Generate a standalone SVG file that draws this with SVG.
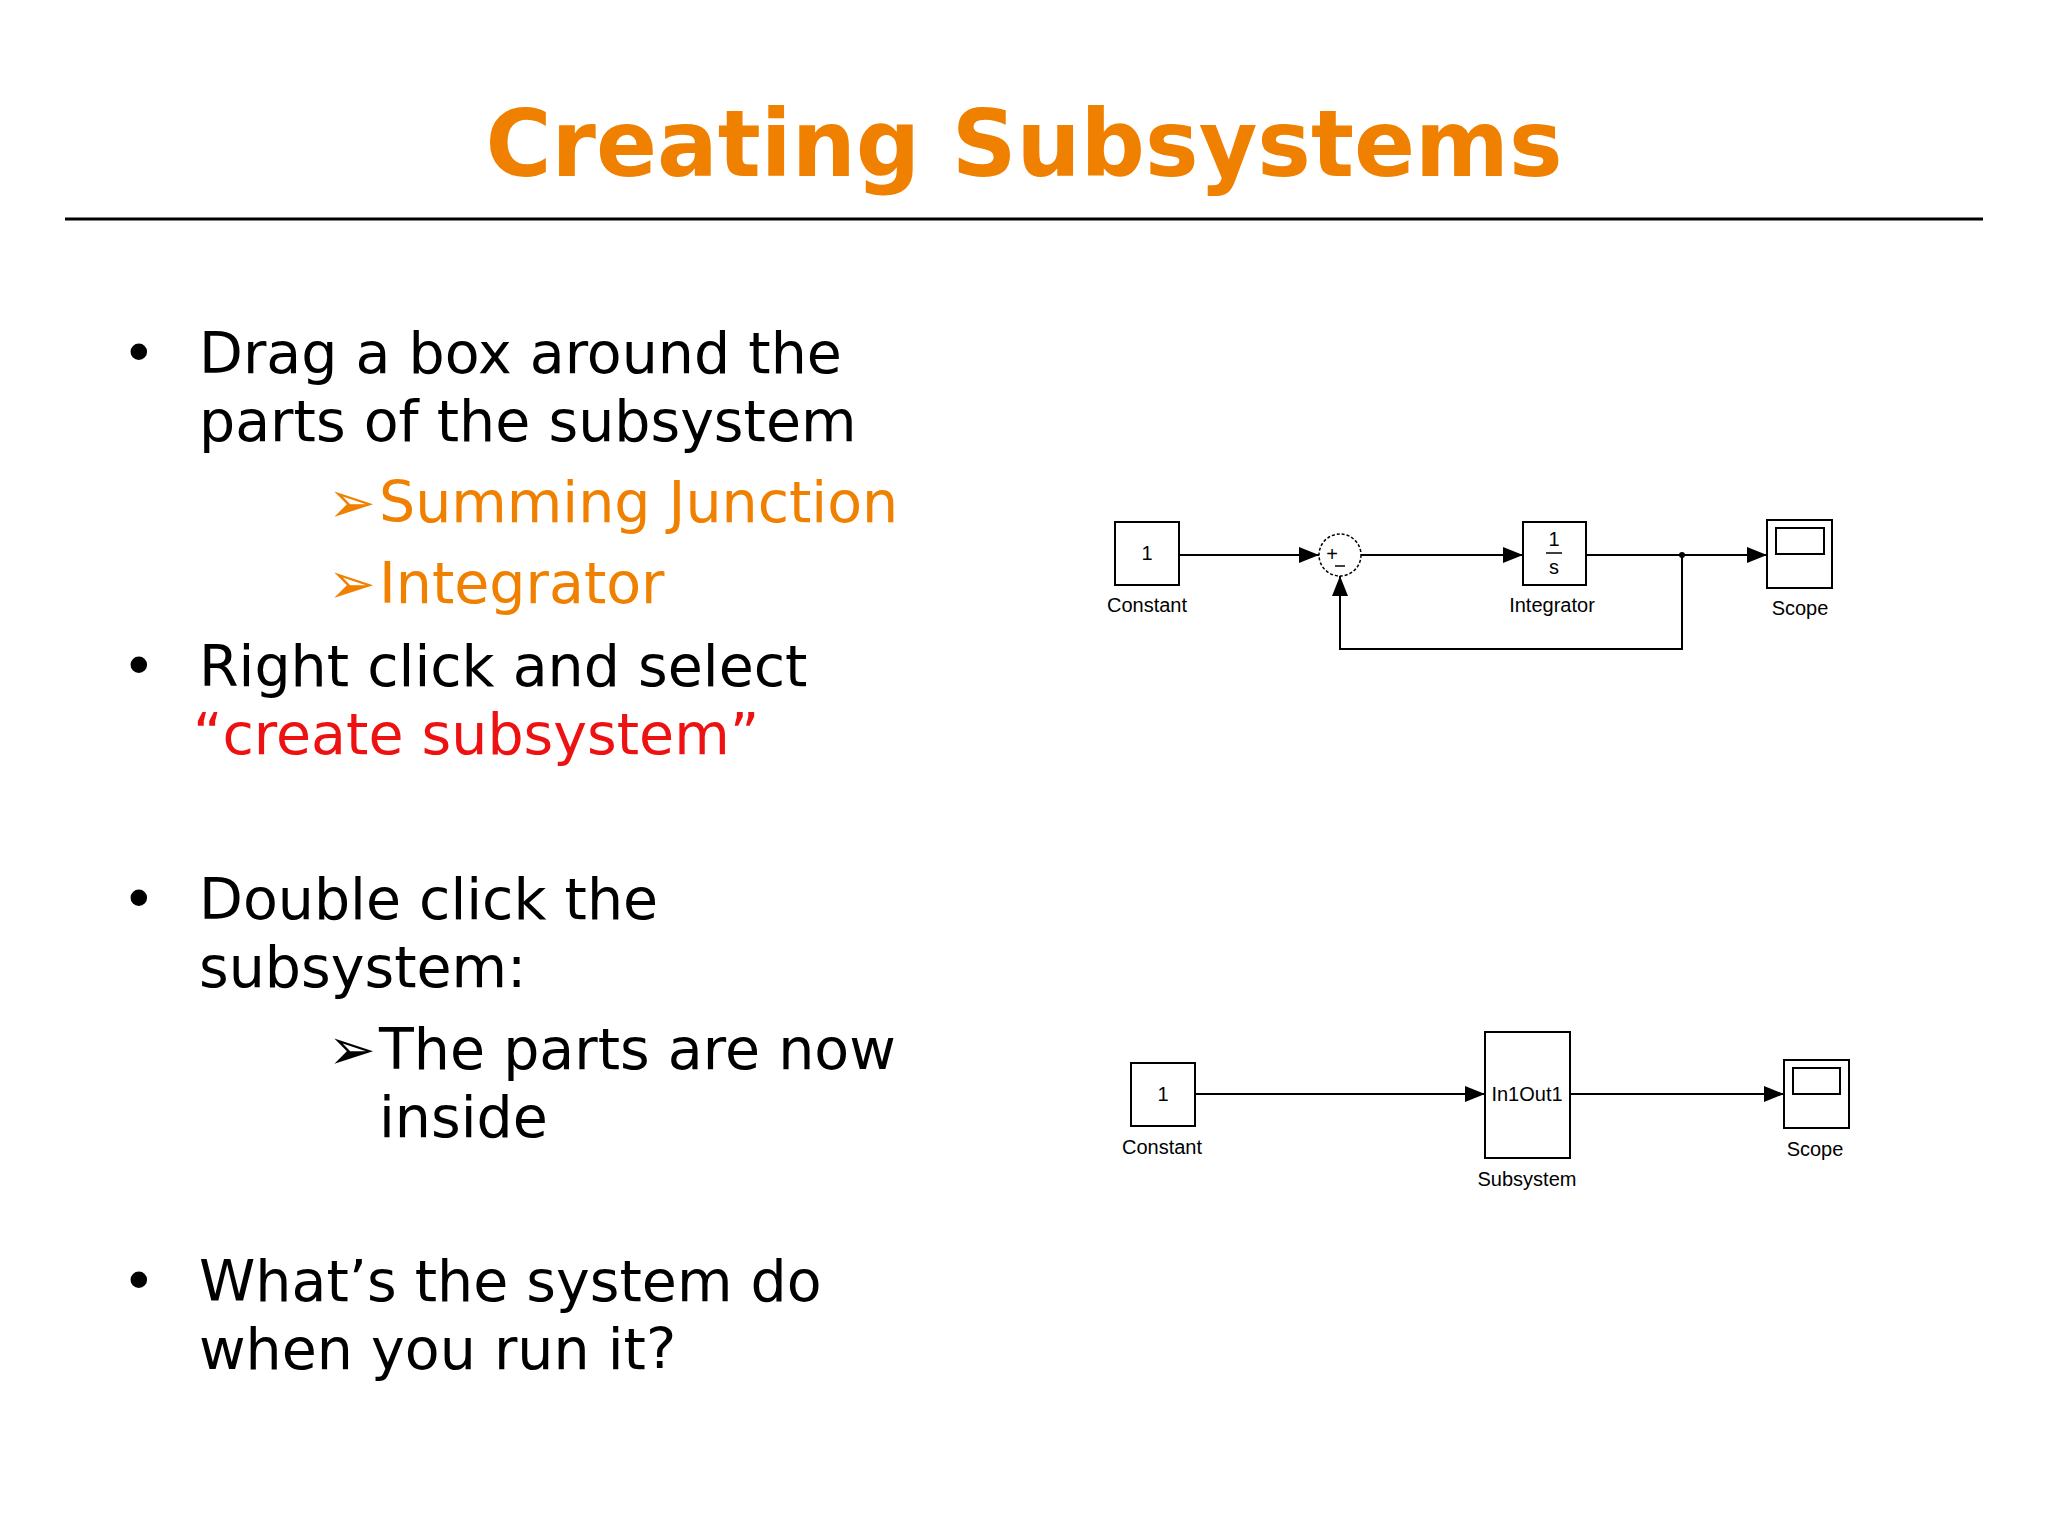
<svg xmlns="http://www.w3.org/2000/svg" width="2048" height="1534" viewBox="0 0 2048 1534">
<style>
.t{font-family:"DejaVu Sans",Verdana,sans-serif;font-size:57px;fill:#000}
.o{fill:#f08000}
.r{fill:#ee1111}
.b{fill:#fff;stroke:#000;stroke-width:2}
.l{font-family:"Liberation Sans",Arial,sans-serif;font-size:20px;fill:#000;text-anchor:middle}
.w{fill:none;stroke:#000;stroke-width:2}
</style>
<defs><marker id="a2" markerWidth="20" markerHeight="16" refX="20" refY="8" orient="auto" markerUnits="userSpaceOnUse"><path d="M0,0L20,8L0,16z" fill="#000"/></marker></defs>
<rect width="2048" height="1534" fill="#fff"/>
<text x="1024" y="176" text-anchor="middle" font-family="DejaVu Sans,Verdana,sans-serif" font-weight="bold" font-size="92" fill="#f08000" textLength="1077" lengthAdjust="spacingAndGlyphs">Creating Subsystems</text>
<line x1="65" y1="219" x2="1983" y2="219" stroke="#000" stroke-width="3"/>
<g id="bullets">
<text class="t" x="122" y="373">•</text><text class="t" x="199" y="373">Drag a box around the</text>
<text class="t" x="199" y="441">parts of the subsystem</text>
<text class="t o" x="328" y="522">➢</text><text class="t o" x="379" y="522">Summing Junction</text>
<text class="t o" x="328" y="603">➢</text><text class="t o" x="379" y="603">Integrator</text>
<text class="t" x="122" y="686">•</text><text class="t" x="199" y="686">Right click and select</text>
<text class="t r" x="193" y="754">“create subsystem”</text>
<text class="t" x="122" y="919">•</text><text class="t" x="199" y="919">Double click the</text>
<text class="t" x="199" y="987">subsystem:</text>
<text class="t" x="328" y="1069">➢</text><text class="t" x="379" y="1069">The parts are now</text>
<text class="t" x="379" y="1137">inside</text>
<text class="t" x="122" y="1301">•</text><text class="t" x="199" y="1301">What’s the system do</text>
<text class="t" x="199" y="1369">when you run it?</text>
</g>
<g id="connectors">
<line class="w" x1="1179" y1="555" x2="1319" y2="555" marker-end="url(#a2)"/>
<line class="w" x1="1361" y1="555" x2="1523" y2="555" marker-end="url(#a2)"/>
<line class="w" x1="1586" y1="555" x2="1767" y2="555" marker-end="url(#a2)"/>
<polyline class="w" points="1682,555 1682,649 1340,649 1340,576" marker-end="url(#a2)"/>
<circle cx="1682" cy="555" r="3"/>
<line class="w" x1="1195" y1="1094" x2="1485" y2="1094" marker-end="url(#a2)"/>
<line class="w" x1="1570" y1="1094" x2="1784" y2="1094" marker-end="url(#a2)"/>
</g>
<g id="constant1"><rect class="b" x="1115" y="522" width="64" height="63"/><text class="l" x="1147" y="560">1</text><text class="l" x="1147" y="612">Constant</text></g>
<g id="sum"><circle cx="1340" cy="555" r="21" fill="#fff" stroke="#000" stroke-width="1.5" stroke-dasharray="3,2"/><text class="l" x="1332" y="561">+</text><line x1="1335" y1="566" x2="1345" y2="566" stroke="#000" stroke-width="1.5"/></g>
<g id="integrator"><rect class="b" x="1523" y="522" width="63" height="63"/><text class="l" x="1554" y="546">1</text><line x1="1546" y1="553" x2="1562" y2="553" stroke="#000" stroke-width="1.5"/><text class="l" x="1554" y="574">s</text><text class="l" x="1552" y="612">Integrator</text></g>
<g id="scope1"><rect class="b" x="1767" y="520" width="65" height="68"/><rect class="b" x="1776" y="528" width="48" height="26"/><text class="l" x="1800" y="615">Scope</text></g>
<g id="constant2"><rect class="b" x="1131" y="1063" width="64" height="63"/><text class="l" x="1163" y="1101">1</text><text class="l" x="1162" y="1154">Constant</text></g>
<g id="subsystem"><rect class="b" x="1485" y="1032" width="85" height="126"/><text class="l" x="1527" y="1101" font-size="18">In1Out1</text><text class="l" x="1527" y="1186">Subsystem</text></g>
<g id="scope2"><rect class="b" x="1784" y="1060" width="65" height="68"/><rect class="b" x="1793" y="1068" width="47" height="26"/><text class="l" x="1815" y="1156">Scope</text></g>
</svg>
